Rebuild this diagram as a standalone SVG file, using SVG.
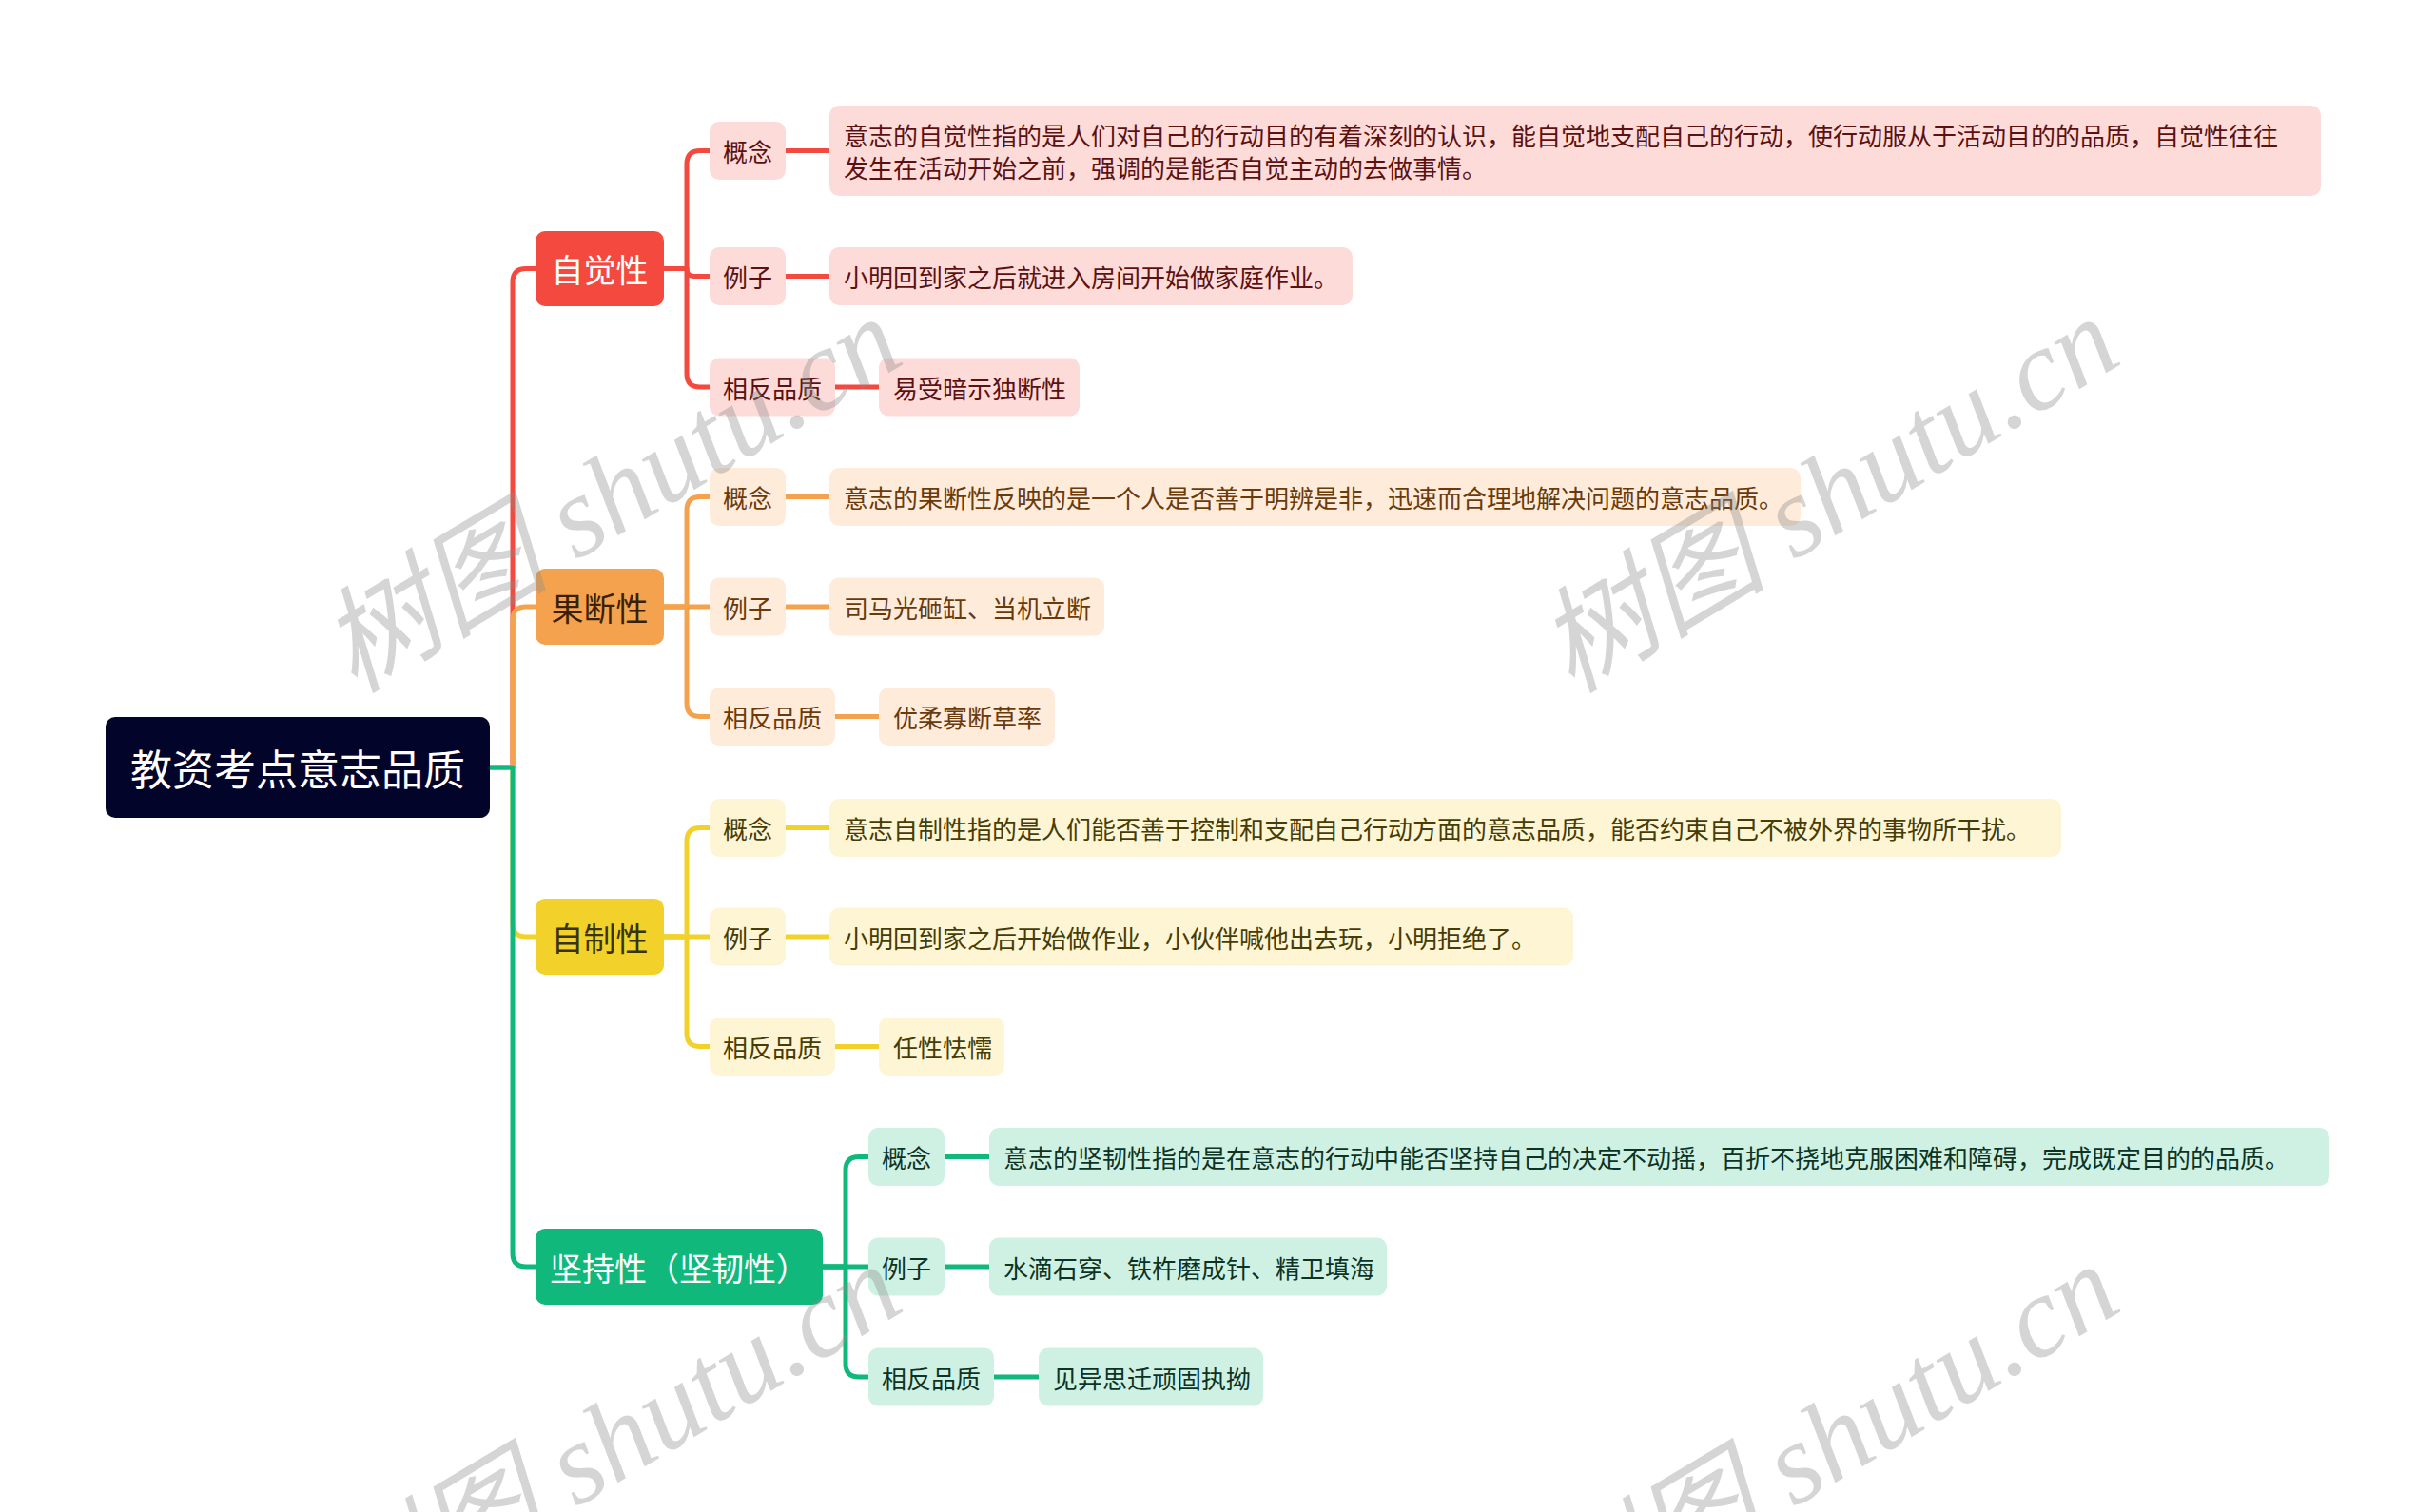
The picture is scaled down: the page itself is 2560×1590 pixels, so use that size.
<svg xmlns="http://www.w3.org/2000/svg" width="2560" height="1590" viewBox="0 0 2560 1590">
<style>
text{font-family:"Noto Sans CJK SC","Noto Sans",sans-serif;dominant-baseline:central}
.root{fill:#03042a}
.rt{fill:#ffffff;font-size:44px;text-anchor:middle}
.l1t{font-size:34px;text-anchor:middle}
.l2t{font-size:26px;text-anchor:middle}
.l3t{font-size:26px;text-anchor:start}
.con{fill:none;stroke-width:5;stroke-linejoin:round}
.r .m{fill:#f4493e}.r .b{fill:#fddbd9}.r .t{fill:#5c1111}
.o .m{fill:#f5a24e}.o .b{fill:#feebda}.o .t{fill:#6b3a0a}
.y .m{fill:#f2d22a}.y .b{fill:#fdf5d4}.y .t{fill:#463c05}
.g .m{fill:#10b97b}.g .b{fill:#cef1e3}.g .t{fill:#0c3324}
.cr{stroke:#f4493e}.co{stroke:#f5a24e}.cy{stroke:#f2d22a}.cg{stroke:#10b97b}
.wm{font-family:"Liberation Serif","Noto Sans CJK SC",serif;font-style:italic;font-size:121px;fill:#8c8c8c;opacity:0.36;text-anchor:middle}
</style>
<rect width="2560" height="1590" fill="#ffffff"/>
<g id="connectors">
<path class="con cr" d="M515 807 H539 V296.5 Q539 282.5 553 282.5 H563"/>
<path class="con co" d="M515 807 H539 V652 Q539 638 553 638 H563"/>
<path class="con cy" d="M515 807 H539 V971 Q539 985 553 985 H563"/>
<path class="con cg" d="M515 807 H539 V1318 Q539 1332 553 1332 H563"/>
<path class="con cr" d="M698 282.5 H722 V172.5 Q722 158.5 736 158.5 H746"/>
<path class="con cr" d="M698 282.5 H722 Q722 290.5 730 290.5 H746"/>
<path class="con cr" d="M698 282.5 H722 V393 Q722 407 736 407 H746"/>
<path class="con cr" d="M826 158.5 H872 M826 290.5 H872 M878 407 H924"/>
<path class="con co" d="M698 638 H722 V536.5 Q722 522.5 736 522.5 H746"/>
<path class="con co" d="M698 638 H746"/>
<path class="con co" d="M698 638 H722 V739.5 Q722 753.5 736 753.5 H746"/>
<path class="con co" d="M826 522.5 H872 M826 638 H872 M878 753.5 H924"/>
<path class="con cy" d="M698 985 H722 V884.5 Q722 870.5 736 870.5 H746"/>
<path class="con cy" d="M698 985 H746"/>
<path class="con cy" d="M698 985 H722 V1086.5 Q722 1100.5 736 1100.5 H746"/>
<path class="con cy" d="M826 870.5 H872 M826 985 H872 M878 1100.5 H924"/>
<path class="con cg" d="M865 1332 H889 V1230.5 Q889 1216.5 903 1216.5 H913"/>
<path class="con cg" d="M865 1332 H913"/>
<path class="con cg" d="M865 1332 H889 V1434 Q889 1448 903 1448 H913"/>
<path class="con cg" d="M993 1216.5 H1040 M993 1332 H1040 M1045 1448 H1092"/>
</g>
<g id="root"><rect class="root" x="111" y="754" width="404" height="106" rx="10"/><text class="rt" x="313" y="807">教资考点意志品质</text></g>
<g id="n-zijue" class="r"><rect class="m" x="563" y="243" width="135" height="79" rx="10"/><text class="l1t" x="630.5" y="282.5" fill="#ffffff">自觉性</text></g>
<g id="n-zijue-gn" class="r"><rect class="b" x="746" y="128" width="80" height="61" rx="10"/><text class="l2t t" x="786" y="158.5">概念</text></g>
<g id="n-zijue-gn-c" class="r"><rect class="b" x="872" y="111" width="1568" height="95" rx="10"/><text class="l3t t" x="887" y="141.5">意志的自觉性指的是人们对自己的行动目的有着深刻的认识，能自觉地支配自己的行动，使行动服从于活动目的的品质，自觉性往往</text><text class="l3t t" x="887" y="175.5">发生在活动开始之前，强调的是能否自觉主动的去做事情。</text></g>
<g id="n-zijue-lz" class="r"><rect class="b" x="746" y="260" width="80" height="61" rx="10"/><text class="l2t t" x="786" y="290.5">例子</text></g>
<g id="n-zijue-lz-c" class="r"><rect class="b" x="872" y="260" width="550" height="61" rx="10"/><text class="l3t t" x="887" y="290.5">小明回到家之后就进入房间开始做家庭作业。</text></g>
<g id="n-zijue-xf" class="r"><rect class="b" x="746" y="376.5" width="132" height="61" rx="10"/><text class="l2t t" x="812" y="407">相反品质</text></g>
<g id="n-zijue-xf-c" class="r"><rect class="b" x="924" y="376.5" width="211" height="61" rx="10"/><text class="l3t t" x="939" y="407">易受暗示独断性</text></g>
<g id="n-guoduan" class="o"><rect class="m" x="563" y="598" width="135" height="80" rx="10"/><text class="l1t" x="630.5" y="638" fill="#3a1f05">果断性</text></g>
<g id="n-guoduan-gn" class="o"><rect class="b" x="746" y="492" width="80" height="61" rx="10"/><text class="l2t t" x="786" y="522.5">概念</text></g>
<g id="n-guoduan-gn-c" class="o"><rect class="b" x="872" y="492" width="1021" height="61" rx="10"/><text class="l3t t" x="887" y="522.5">意志的果断性反映的是一个人是否善于明辨是非，迅速而合理地解决问题的意志品质。</text></g>
<g id="n-guoduan-lz" class="o"><rect class="b" x="746" y="607.5" width="80" height="61" rx="10"/><text class="l2t t" x="786" y="638">例子</text></g>
<g id="n-guoduan-lz-c" class="o"><rect class="b" x="872" y="607.5" width="289" height="61" rx="10"/><text class="l3t t" x="887" y="638">司马光砸缸、当机立断</text></g>
<g id="n-guoduan-xf" class="o"><rect class="b" x="746" y="723" width="132" height="61" rx="10"/><text class="l2t t" x="812" y="753.5">相反品质</text></g>
<g id="n-guoduan-xf-c" class="o"><rect class="b" x="924" y="723" width="185" height="61" rx="10"/><text class="l3t t" x="939" y="753.5">优柔寡断草率</text></g>
<g id="n-zizhi" class="y"><rect class="m" x="563" y="945" width="135" height="80" rx="10"/><text class="l1t" x="630.5" y="985" fill="#3a3208">自制性</text></g>
<g id="n-zizhi-gn" class="y"><rect class="b" x="746" y="840" width="80" height="61" rx="10"/><text class="l2t t" x="786" y="870.5">概念</text></g>
<g id="n-zizhi-gn-c" class="y"><rect class="b" x="872" y="840" width="1295" height="61" rx="10"/><text class="l3t t" x="887" y="870.5">意志自制性指的是人们能否善于控制和支配自己行动方面的意志品质，能否约束自己不被外界的事物所干扰。</text></g>
<g id="n-zizhi-lz" class="y"><rect class="b" x="746" y="954.5" width="80" height="61" rx="10"/><text class="l2t t" x="786" y="985">例子</text></g>
<g id="n-zizhi-lz-c" class="y"><rect class="b" x="872" y="954.5" width="782" height="61" rx="10"/><text class="l3t t" x="887" y="985">小明回到家之后开始做作业，小伙伴喊他出去玩，小明拒绝了。</text></g>
<g id="n-zizhi-xf" class="y"><rect class="b" x="746" y="1070" width="132" height="61" rx="10"/><text class="l2t t" x="812" y="1100.5">相反品质</text></g>
<g id="n-zizhi-xf-c" class="y"><rect class="b" x="924" y="1070" width="132" height="61" rx="10"/><text class="l3t t" x="939" y="1100.5">任性怯懦</text></g>
<g id="n-jianchi" class="g"><rect class="m" x="563" y="1292" width="302" height="80" rx="10"/><text class="l1t" x="714" y="1332" fill="#ffffff">坚持性（坚韧性）</text></g>
<g id="n-jianchi-gn" class="g"><rect class="b" x="913" y="1186" width="80" height="61" rx="10"/><text class="l2t t" x="953" y="1216.5">概念</text></g>
<g id="n-jianchi-gn-c" class="g"><rect class="b" x="1040" y="1186" width="1409" height="61" rx="10"/><text class="l3t t" x="1055" y="1216.5">意志的坚韧性指的是在意志的行动中能否坚持自己的决定不动摇，百折不挠地克服困难和障碍，完成既定目的的品质。</text></g>
<g id="n-jianchi-lz" class="g"><rect class="b" x="913" y="1301.5" width="80" height="61" rx="10"/><text class="l2t t" x="953" y="1332">例子</text></g>
<g id="n-jianchi-lz-c" class="g"><rect class="b" x="1040" y="1301.5" width="418" height="61" rx="10"/><text class="l3t t" x="1055" y="1332">水滴石穿、铁杵磨成针、精卫填海</text></g>
<g id="n-jianchi-xf" class="g"><rect class="b" x="913" y="1417.5" width="132" height="61" rx="10"/><text class="l2t t" x="979" y="1448">相反品质</text></g>
<g id="n-jianchi-xf-c" class="g"><rect class="b" x="1092" y="1417.5" width="236" height="61" rx="10"/><text class="l3t t" x="1107" y="1448">见异思迁顽固执拗</text></g>
<g id="watermarks">
<text class="wm" transform="translate(642 520) rotate(-31)">树图 shutu.cn</text>
<text class="wm" transform="translate(1922 520) rotate(-31)">树图 shutu.cn</text>
<text class="wm" transform="translate(642 1516) rotate(-31)">树图 shutu.cn</text>
<text class="wm" transform="translate(1922 1516) rotate(-31)">树图 shutu.cn</text>
</g>
</svg>
